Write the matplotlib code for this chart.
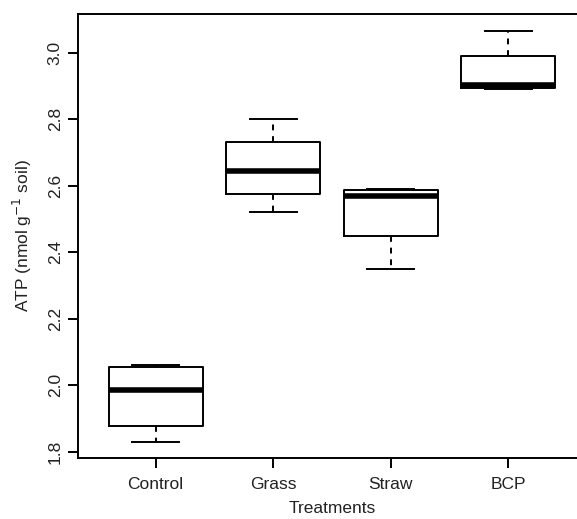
import matplotlib
matplotlib.use("Agg")
from matplotlib import pyplot as plt

plt.rcParams["font.family"] = ["Liberation Sans", "DejaVu Sans"]
plt.rcParams["text.color"] = "#222222"
plt.rcParams["xtick.labelcolor"] = "#222222"
plt.rcParams["ytick.labelcolor"] = "#222222"
plt.rcParams["axes.labelcolor"] = "#222222"

treatments = ["Control", "Grass", "Straw", "BCP"]
whislo = [1.83, 2.52, 2.35, 2.89]
q1 = [1.877, 2.574, 2.449, 2.893]
med = [1.985, 2.643, 2.568, 2.902]
q3 = [2.055, 2.73, 2.587, 2.99]
whishi = [2.06, 2.80, 2.59, 3.067]

stats = []
for i, name in enumerate(treatments):
    stats.append(dict(label=name, whislo=whislo[i], q1=q1[i], med=med[i],
                      q3=q3[i], whishi=whishi[i], fliers=[]))

W, H = 577, 519
fig = plt.figure(figsize=(W / 100, H / 100), dpi=100)
ax = fig.add_axes([78 / W, (H - 458) / H, (585.6 - 78) / W, (458 - 14) / H])

lw = 1.4
ax.bxp(stats, positions=[1, 2, 3, 4], widths=0.8, showfliers=False,
       boxprops=dict(color="black", linewidth=lw),
       medianprops=dict(color="black", linewidth=4.0, solid_capstyle="butt"),
       whiskerprops=dict(color="black", linewidth=lw, linestyle=(0, (3, 3))),
       capprops=dict(color="black", linewidth=lw), capwidths=0.4)

ax.set_xlim(0.34, 4.66)
ax.set_ylim(1.7805, 3.1167)
ax.set_yticks([1.8, 2.0, 2.2, 2.4, 2.6, 2.8, 3.0])
ax.set_yticklabels(["1.8", "2.0", "2.2", "2.4", "2.6", "2.8", "3.0"],
                   rotation=90, va="center")
ax.set_xticks([1, 2, 3, 4])
ax.set_xticklabels(treatments)

for s in ax.spines.values():
    s.set_linewidth(lw)
ax.spines["right"].set_visible(False)
ax.tick_params(axis="both", length=7, width=lw, labelsize=12.5, color="black")
ax.tick_params(axis="y", pad=4)
ax.tick_params(axis="x", pad=7)

ax.set_xlabel("Treatments", fontsize=12.5, labelpad=6)
ax.set_ylabel("ATP (nmol g$^{-1}$ soil)", fontsize=12.5, labelpad=10)

fig.savefig("out.png", dpi=100)
